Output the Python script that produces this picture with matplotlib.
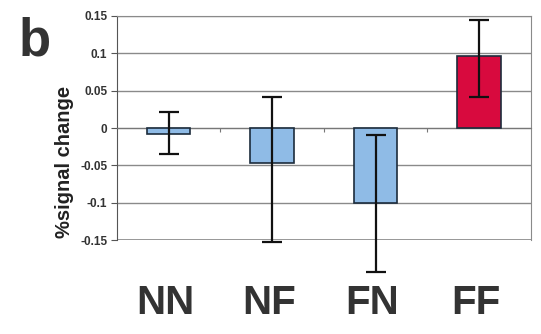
import numpy as np
import matplotlib.pyplot as plt
import matplotlib.transforms as mtransforms

# data
conditions = ["NN", "NF", "FN", "FF"]
signal_change = [-0.008, -0.047, -0.100, 0.097]
err_low = [0.027, 0.105, 0.093, 0.056]
err_high = [0.029, 0.089, 0.090, 0.048]
bar_colors = ["#8fbbe6", "#8fbbe6", "#8fbbe6", "#d80a3e"]
yticks = [0.15, 0.1, 0.05, 0, -0.05, -0.1, -0.15]
ytick_labels = ["0.15", "0.1", "0.05", "0", "-0.05", "-0.1", "-0.15"]

plt.rcParams['font.family'] = ['Liberation Sans', 'DejaVu Sans']

fig = plt.figure(figsize=(5.41, 3.34), dpi=100)
ax = fig.add_axes([0.2163, 0.2814, 0.765, 0.6707])

x = np.arange(len(conditions))
ax.bar(x, signal_change, width=0.42, color=bar_colors, edgecolor="#1c2c3c",
       linewidth=1.2, zorder=3)
eb = ax.errorbar(x, signal_change, yerr=[err_low, err_high], fmt="none",
                 ecolor="#111111", elinewidth=1.6, capsize=7, capthick=1.6, zorder=4)
for art in eb.lines[1] + eb.lines[2]:
    art.set_clip_on(False)

ax.set_xlim(-0.5, 3.5)
ax.set_ylim(-0.15, 0.15)
ax.set_yticks(yticks)
ax.set_yticklabels(ytick_labels, fontsize=8.5, fontweight="bold", color="#333333")
ax.yaxis.grid(True, color="#8a8a8a", linewidth=1.0, zorder=0)
ax.tick_params(axis="y", length=4, color="#555555", pad=3)

# category axis crosses at zero
ax.spines["bottom"].set_position(("data", 0))
ax.spines["bottom"].set_color("#777777")
ax.set_xticks([0.5, 1.5, 2.5])
ax.set_xticklabels([])
ax.tick_params(axis="x", length=3, color="#777777", direction="out")
ax.axhline(-0.15, color="#8a8a8a", linewidth=1.2, zorder=1)
for s in ["top", "right"]:
    ax.spines[s].set_color("#8a8a8a")
ax.spines["left"].set_color("#555555")

trans = mtransforms.blended_transform_factory(ax.transData, fig.transFigure)
for xi, name in zip(x, conditions):
    ax.text(xi - 0.03, 0.093, name, transform=trans, ha="center", va="center",
            fontsize=29, fontweight="bold", color="#333333")

fig.text(0.12, 0.515, "%signal change", rotation=90, fontsize=14.5,
         fontweight="bold", color="#222222", ha="center", va="center")
fig.text(0.035, 0.875, "b", fontsize=38, fontweight="bold", color="#333333",
         ha="left", va="center")

fig.savefig("out.png", dpi=100)
